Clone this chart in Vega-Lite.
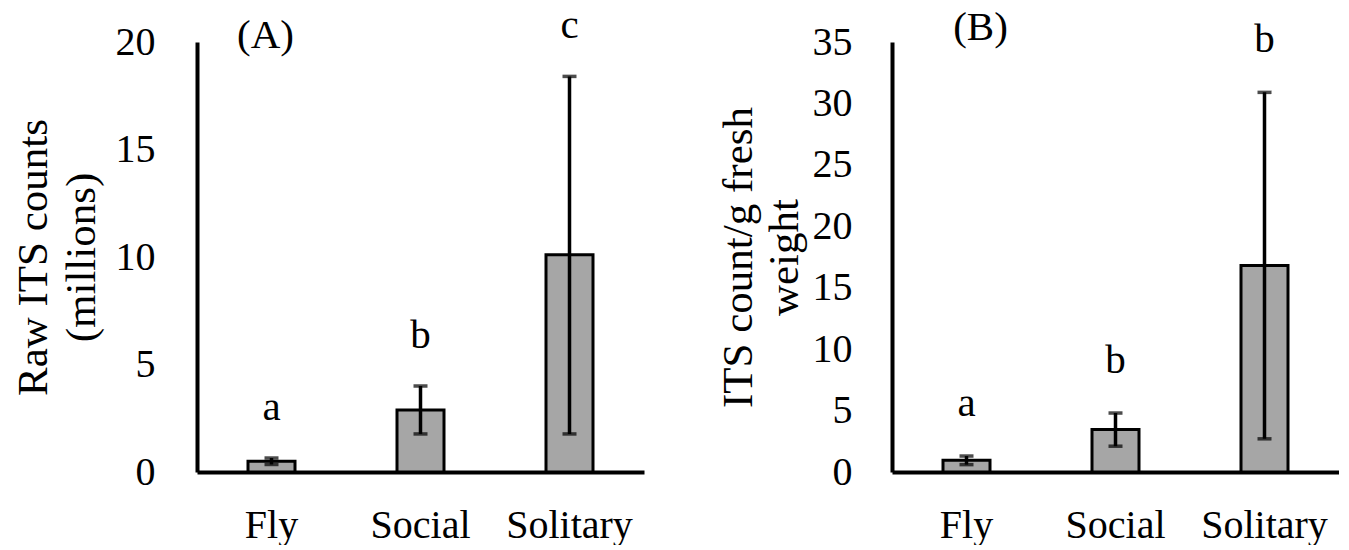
{
  "$schema": "https://vega.github.io/schema/vega-lite/v6.json",
  "background": "white",
  "padding": {"left": 12, "top": 5, "right": 0, "bottom": 0},
  "datasets": {
    "raw": [
      {"group": "Fly", "mean": 0.5, "lo": 0.35, "hi": 0.65, "letter": "a"},
      {"group": "Social", "mean": 2.88, "lo": 1.77, "hi": 4.0, "letter": "b"},
      {"group": "Solitary", "mean": 10.1, "lo": 1.77, "hi": 18.4, "letter": "c"}
    ],
    "perGram": [
      {"group": "Fly", "mean": 0.95, "lo": 0.6, "hi": 1.3, "letter": "a"},
      {"group": "Social", "mean": 3.45, "lo": 2.1, "hi": 4.8, "letter": "b"},
      {"group": "Solitary", "mean": 16.8, "lo": 2.7, "hi": 30.9, "letter": "b"}
    ]
  },
  "config": {
    "font": "Liberation Serif",
    "view": {"stroke": null},
    "axis": {
      "domainColor": "black",
      "domainWidth": 4,
      "ticks": false,
      "grid": false,
      "labelFont": "Liberation Serif",
      "labelFontSize": 40,
      "labelColor": "black",
      "titleFont": "Liberation Serif",
      "titleFontSize": 43,
      "titleFontWeight": "normal",
      "titleColor": "black"
    }
  },
  "bounds": "flush",
  "spacing": 248,
  "hconcat": [
    {
      "width": 447,
      "height": 430,
      "data": {"name": "raw"},
      "encoding": {
        "x": {
          "field": "group",
          "type": "nominal",
          "sort": ["Fly", "Social", "Solitary"],
          "scale": {"paddingInner": 0, "paddingOuter": 0},
          "axis": {"title": null, "labelAngle": 0, "labelPadding": 33}
        }
      },
      "layer": [
        {
          "mark": {"type": "bar", "size": 47, "fill": "#a6a6a6", "stroke": "black", "strokeWidth": 3},
          "encoding": {
            "y": {
              "field": "mean",
              "type": "quantitative",
              "scale": {"domain": [0, 20], "nice": false},
              "axis": {
                "values": [0, 5, 10, 15, 20],
                "labelPadding": 42,
                "title": ["Raw ITS counts", "(millions)"],
                "titlePadding": 12,
                "titleLineHeight": 48
              }
            }
          }
        },
        {
          "mark": {"type": "rule", "color": "black", "strokeWidth": 3.5},
          "encoding": {"y": {"field": "lo", "type": "quantitative"}, "y2": {"field": "hi"}}
        },
        {
          "mark": {"type": "tick", "color": "black", "size": 14, "thickness": 3.5},
          "encoding": {"y": {"field": "lo", "type": "quantitative"}}
        },
        {
          "mark": {"type": "tick", "color": "black", "size": 14, "thickness": 3.5},
          "encoding": {"y": {"field": "hi", "type": "quantitative"}}
        },
        {
          "mark": {"type": "text", "fontSize": 41, "color": "black", "baseline": "middle", "dy": -50},
          "encoding": {"y": {"field": "hi", "type": "quantitative"}, "text": {"field": "letter"}}
        },
        {
          "data": {"values": [{"panel": "(A)", "group": "Fly", "at": 20}]},
          "mark": {"type": "text", "fontSize": 41, "color": "black", "baseline": "middle", "dx": -6, "dy": -6},
          "encoding": {"y": {"field": "at", "type": "quantitative"}, "text": {"field": "panel"}}
        }
      ]
    },
    {
      "width": 447,
      "height": 430,
      "data": {"name": "perGram"},
      "encoding": {
        "x": {
          "field": "group",
          "type": "nominal",
          "sort": ["Fly", "Social", "Solitary"],
          "scale": {"paddingInner": 0, "paddingOuter": 0},
          "axis": {"title": null, "labelAngle": 0, "labelPadding": 33}
        }
      },
      "layer": [
        {
          "mark": {"type": "bar", "size": 47, "fill": "#a6a6a6", "stroke": "black", "strokeWidth": 3},
          "encoding": {
            "y": {
              "field": "mean",
              "type": "quantitative",
              "scale": {"domain": [0, 35], "nice": false},
              "axis": {
                "values": [0, 5, 10, 15, 20, 25, 30, 35],
                "labelPadding": 40,
                "title": ["ITS count/g fresh", "weight"],
                "titlePadding": 6,
                "titleLineHeight": 46
              }
            }
          }
        },
        {
          "mark": {"type": "rule", "color": "black", "strokeWidth": 3.5},
          "encoding": {"y": {"field": "lo", "type": "quantitative"}, "y2": {"field": "hi"}}
        },
        {
          "mark": {"type": "tick", "color": "black", "size": 14, "thickness": 3.5},
          "encoding": {"y": {"field": "lo", "type": "quantitative"}}
        },
        {
          "mark": {"type": "tick", "color": "black", "size": 14, "thickness": 3.5},
          "encoding": {"y": {"field": "hi", "type": "quantitative"}}
        },
        {
          "mark": {"type": "text", "fontSize": 41, "color": "black", "baseline": "middle", "dy": -52},
          "encoding": {"y": {"field": "hi", "type": "quantitative"}, "text": {"field": "letter"}}
        },
        {
          "data": {"values": [{"panel": "(B)", "group": "Fly", "at": 35}]},
          "mark": {"type": "text", "fontSize": 41, "color": "black", "baseline": "middle", "dx": 14, "dy": -14},
          "encoding": {"y": {"field": "at", "type": "quantitative"}, "text": {"field": "panel"}}
        }
      ]
    }
  ]
}
